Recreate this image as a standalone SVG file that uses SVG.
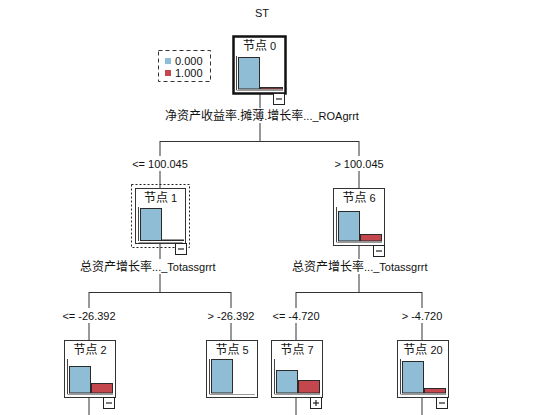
<svg xmlns="http://www.w3.org/2000/svg" width="554" height="415" viewBox="0 0 554 415">
<style>
text{font-family:"Liberation Sans","Noto Sans CJK SC",sans-serif;font-size:11px;fill:#111}
.c{font-size:12px}
.mid{text-anchor:middle}
.box{fill:#fff;stroke:#333;stroke-width:1}
.box0{fill:#fff;stroke:#111;stroke-width:2.5}
.ax{stroke:#444;stroke-width:1}
.bl{stroke:#999;stroke-width:1.2}
.b{fill:#8fbdd6;stroke:#2a2a2a;stroke-width:1}
.r{fill:#c4474d;stroke:#2a2a2a;stroke-width:1}
.tg{fill:#fff;stroke:#222;stroke-width:1}
.tl{stroke:#222;stroke-width:1.2}
.ln{stroke:#333;stroke-width:1;fill:none}
.sel{fill:none;stroke:#222;stroke-width:1;stroke-dasharray:2,2}
.leg{fill:none;stroke:#333;stroke-width:1;stroke-dasharray:4,3}
</style>
<rect width="554" height="415" fill="#fff"/>
<text x="262" y="17" class="mid">ST</text>

<g id="legend">
<rect x="158.5" y="50.5" width="52" height="31" class="leg"/>
<rect x="165" y="58" width="6" height="6" fill="#8fbdd6"/>
<text x="175" y="65">0.000</text>
<rect x="165" y="70" width="6" height="6" fill="#c4474d"/>
<text x="175" y="77">1.000</text>
</g>

<g id="connectors">
<line x1="260" y1="94" x2="260" y2="108" class="ln"/>
<line x1="260" y1="123" x2="260" y2="141" class="ln"/>
<line x1="160" y1="141.5" x2="359" y2="141.5" class="ln"/>
<line x1="160" y1="141" x2="160" y2="156" class="ln"/>
<line x1="160" y1="171" x2="160" y2="188" class="ln"/>
<line x1="359" y1="141" x2="359" y2="156" class="ln"/>
<line x1="359" y1="171" x2="359" y2="188" class="ln"/>
<line x1="160" y1="243" x2="160" y2="259" class="ln"/>
<line x1="160" y1="274" x2="160" y2="292" class="ln"/>
<line x1="359" y1="245" x2="359" y2="259" class="ln"/>
<line x1="359" y1="274" x2="359" y2="292" class="ln"/>
<line x1="89" y1="292.5" x2="231" y2="292.5" class="ln"/>
<line x1="296" y1="292.5" x2="422" y2="292.5" class="ln"/>
<line x1="89" y1="292" x2="89" y2="308" class="ln"/>
<line x1="89" y1="323" x2="89" y2="340" class="ln"/>
<line x1="231" y1="292" x2="231" y2="308" class="ln"/>
<line x1="231" y1="323" x2="231" y2="340" class="ln"/>
<line x1="296" y1="292" x2="296" y2="308" class="ln"/>
<line x1="296" y1="323" x2="296" y2="340" class="ln"/>
<line x1="422" y1="292" x2="422" y2="308" class="ln"/>
<line x1="422" y1="323" x2="422" y2="340" class="ln"/>
<line x1="89" y1="397" x2="89" y2="415" class="ln"/>
<line x1="296" y1="397" x2="296" y2="415" class="ln"/>
<line x1="422" y1="397" x2="422" y2="415" class="ln"/>
<text x="262" y="120" class="mid"><tspan class="c">净资产收益率</tspan>.<tspan class="c">摊薄</tspan>.<tspan class="c">增长率</tspan>..._ROAgrrt</text>
<text x="160" y="168" class="mid">&lt;= 100.045</text>
<text x="359" y="168" class="mid">&gt; 100.045</text>
<text x="80" y="271"><tspan class="c">总资产增长率</tspan>..._Totassgrrt</text>
<text x="292" y="271"><tspan class="c">总资产增长率</tspan>..._Totassgrrt</text>
<text x="89" y="320" class="mid">&lt;= -26.392</text>
<text x="231" y="320" class="mid">&gt; -26.392</text>
<text x="296" y="320" class="mid">&lt;= -4.720</text>
<text x="422" y="320" class="mid">&gt; -4.720</text>
</g>

<g id="node0">
<rect x="233.5" y="36.5" width="52" height="57" class="box0"/>
<text x="259.5" y="50" class="mid"><tspan class="c">节点</tspan> 0</text>
<line x1="236.5" y1="56" x2="236.5" y2="90" class="ax"/>
<line x1="236.5" y1="90.5" x2="283" y2="90.5" class="bl"/>
<rect x="238.5" y="57.5" width="21" height="31.5" class="b"/>
<rect x="260.5" y="87.5" width="22" height="1.5" class="r"/>
<rect x="273.5" y="93.5" width="11" height="11" class="tg"/>
<line x1="276" y1="99" x2="282" y2="99" class="tl"/>
</g>

<g id="node1">
<rect x="131.5" y="184.5" width="58" height="63" class="sel"/>
<rect x="135.5" y="188.5" width="50" height="55" class="box"/>
<text x="160.5" y="202" class="mid"><tspan class="c">节点</tspan> 1</text>
<line x1="138.5" y1="207" x2="138.5" y2="241" class="ax"/>
<line x1="138.5" y1="242.5" x2="183" y2="242.5" class="bl"/>
<rect x="140.5" y="208.5" width="21" height="32" class="b"/>
<rect x="162.5" y="240" width="21" height="0.5" class="r"/>
<rect x="175.5" y="243.5" width="11" height="11" class="tg"/>
<line x1="178" y1="249" x2="184" y2="249" class="tl"/>
</g>

<g id="node6">
<rect x="333.5" y="188.5" width="51" height="57" class="box"/>
<text x="359" y="202" class="mid"><tspan class="c">节点</tspan> 6</text>
<line x1="336.5" y1="207" x2="336.5" y2="242" class="ax"/>
<line x1="336.5" y1="242.5" x2="382" y2="242.5" class="bl"/>
<rect x="338.5" y="211.5" width="21" height="29.5" class="b"/>
<rect x="360.5" y="234.5" width="21" height="6.5" class="r"/>
<rect x="373.5" y="245.5" width="11" height="11" class="tg"/>
<line x1="376" y1="251" x2="382" y2="251" class="tl"/>
</g>

<g id="node2">
<rect x="64.5" y="340.5" width="51" height="57" class="box"/>
<text x="90" y="354" class="mid"><tspan class="c">节点</tspan> 2</text>
<line x1="67.5" y1="359" x2="67.5" y2="394" class="ax"/>
<line x1="67.5" y1="394.5" x2="113" y2="394.5" class="bl"/>
<rect x="69.5" y="366.5" width="21" height="26.5" class="b"/>
<rect x="91.5" y="383.5" width="21" height="9.5" class="r"/>
<rect x="103.5" y="397.5" width="11" height="11" class="tg"/>
<line x1="106" y1="403" x2="112" y2="403" class="tl"/>
</g>

<g id="node5">
<rect x="206.5" y="340.5" width="51" height="57" class="box"/>
<text x="232" y="354" class="mid"><tspan class="c">节点</tspan> 5</text>
<line x1="209.5" y1="359" x2="209.5" y2="394" class="ax"/>
<line x1="209.5" y1="394.5" x2="255" y2="394.5" class="bl"/>
<rect x="211.5" y="359.5" width="21" height="33.5" class="b"/>
</g>

<g id="node7">
<rect x="271.5" y="340.5" width="51" height="57" class="box"/>
<text x="297" y="354" class="mid"><tspan class="c">节点</tspan> 7</text>
<line x1="274.5" y1="359" x2="274.5" y2="394" class="ax"/>
<line x1="274.5" y1="394.5" x2="320" y2="394.5" class="bl"/>
<rect x="276.5" y="370.5" width="21" height="22.5" class="b"/>
<rect x="298.5" y="380.5" width="21" height="12.5" class="r"/>
<rect x="310.5" y="397.5" width="11" height="11" class="tg"/>
<line x1="313" y1="403" x2="319" y2="403" class="tl"/>
<line x1="316" y1="400" x2="316" y2="406" class="tl"/>
</g>

<g id="node20">
<rect x="397.5" y="340.5" width="51" height="57" class="box"/>
<text x="423" y="354" class="mid"><tspan class="c">节点</tspan> 20</text>
<line x1="400.5" y1="359" x2="400.5" y2="394" class="ax"/>
<line x1="400.5" y1="394.5" x2="446" y2="394.5" class="bl"/>
<rect x="402.5" y="361.5" width="21" height="31.5" class="b"/>
<rect x="424.5" y="388.5" width="21" height="4.5" class="r"/>
<rect x="436.5" y="397.5" width="11" height="11" class="tg"/>
<line x1="439" y1="403" x2="445" y2="403" class="tl"/>
</g>
</svg>
